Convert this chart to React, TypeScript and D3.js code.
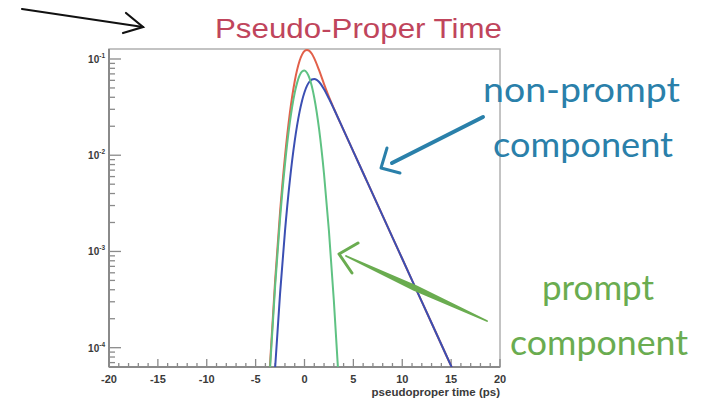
import React from "react";
import * as d3 from "d3";

// ---- data ----
const promptT = [-3.75, -3.5, -3, -2.5, -2, -1.5, -1, -0.75, -0.5, -0.25, 0, 0.25, 0.5, 0.75, 1, 1.5, 2, 2.5, 3, 3.4, 3.65];
const promptV = [2.3e-5, 6.7e-5, 4.43e-4, 2.19e-3, 8.0e-3, 0.0219, 0.0446, 0.0568, 0.0675, 0.0742, 0.0759, 0.0719, 0.0636, 0.0521, 0.0396, 0.0184, 6.34e-3, 1.63e-3, 3.11e-4, 6.7e-5, 2.3e-5];

const nonPromptT = [-3.25, -3, -2.5, -2, -1.5, -1, -0.5, -0.25, 0, 0.25, 0.5, 0.75, 1, 1.25, 1.5, 2, 2.5, 3, 4, 5, 6, 8, 10, 12, 14, 15.5, 16.5];
const nonPromptV = [2.3e-5, 6.3e-5, 3.65e-4, 1.61e-3, 5.44e-3, 0.01408, 0.0284, 0.0368, 0.0451, 0.0525, 0.058, 0.0612, 0.062, 0.0607, 0.0576, 0.0486, 0.0388, 0.0304, 0.01822, 0.01091, 6.53e-3, 2.34e-3, 8.4e-4, 3.01e-4, 1.08e-4, 5.0e-5, 3.0e-5];

const totalT = [-3.75, -3.5, -3, -2.5, -2, -1.5, -1, -0.5, -0.25, 0, 0.25, 0.5, 0.75, 1, 1.5, 2, 2.5, 3, 4, 5, 6, 8, 10, 12, 14, 15.5, 16.5];
const totalV = [2.5e-5, 7.5e-5, 5.06e-4, 2.56e-3, 9.6e-3, 0.0273, 0.0587, 0.0959, 0.111, 0.121, 0.124, 0.1216, 0.1133, 0.1016, 0.076, 0.0549, 0.0404, 0.0307, 0.01823, 0.01091, 6.53e-3, 2.34e-3, 8.4e-4, 3.01e-4, 1.08e-4, 5.0e-5, 3.0e-5];

const xMajorTicks = [-20, -15, -10, -5, 0, 5, 10, 15, 20];
const yDecades = [-1, -2, -3, -4];

const title = "Pseudo-Proper Time";
const xTitle = "pseudoproper time (ps)";

export default function App() {
  const L = 109, R = 500, T = 49, B = 367;
  const x = d3.scaleLinear().domain([-20, 20]).range([L, R]);
  const y = d3.scaleLog().domain([6.3e-5, 0.127]).range([B, T]);

  const mk = (ts: number[], vs: number[]) =>
    d3
      .line<number>()
      .x((_, i) => x(ts[i]))
      .y((_, i) => y(vs[i]))
      .curve(d3.curveMonotoneX)(vs) || "";

  const minorX = d3.range(-20, 21, 1).filter((v) => v % 5 !== 0);
  const minorY: number[] = [];
  [-5, -4, -3, -2].forEach((e) => {
    for (let k = 2; k <= 9; k++) {
      const v = k * Math.pow(10, e);
      if (v > 6.3e-5 && v < 0.127) minorY.push(v);
    }
  });

  const axisCol = "#8a8a8a";
  const labCol = "#3a3a3a";

  return (
    <svg width={705} height={401} style={{ position: "absolute", left: 0, top: 0, background: "#fff" }}>
      <defs>
        <clipPath id="plot">
          <rect x={L} y={T} width={R - L} height={B - T} />
        </clipPath>
      </defs>

      {/* black arrow top-left */}
      <g stroke="#111" strokeWidth={2.2} fill="none" strokeLinecap="round">
        <path d="M22,9 L143,27" />
        <path d="M126,13 L143,27 L123,33" />
      </g>

      {/* title */}
      <text x={215} y={38} fontFamily="'Liberation Sans', Arial, sans-serif" fontSize={28} fill="#c0455c" textLength={287} lengthAdjust="spacingAndGlyphs">
        {title}
      </text>

      {/* frame */}
      <rect x={L} y={T} width={R - L} height={B - T} fill="none" stroke="#b0b0b0" strokeWidth={1.5} />
      <line x1={L} y1={T} x2={L} y2={B} stroke={axisCol} strokeWidth={2} />
      <line x1={L} y1={B} x2={R} y2={B} stroke={axisCol} strokeWidth={2} />

      {/* x ticks */}
      {minorX.map((v) => (
        <line key={"mx" + v} x1={x(v)} x2={x(v)} y1={B} y2={B - 4} stroke={axisCol} strokeWidth={1.3} />
      ))}
      {xMajorTicks.map((v) => (
        <g key={"x" + v}>
          <line x1={x(v)} x2={x(v)} y1={B} y2={B - 8} stroke={axisCol} strokeWidth={1.3} />
          <text x={x(v)} y={383} textAnchor="middle" fontFamily="'Liberation Sans', Arial, sans-serif" fontWeight="bold" fontSize={11} fill={labCol}>
            {String(v)}
          </text>
        </g>
      ))}
      <text x={500} y={396} textAnchor="end" fontFamily="'Liberation Sans', Arial, sans-serif" fontWeight="bold" fontSize={11.5} fill={labCol}>
        {xTitle}
      </text>

      {/* y ticks */}
      {minorY.map((v, i) => (
        <line key={"my" + i} x1={L} x2={L + 6} y1={y(v)} y2={y(v)} stroke={axisCol} strokeWidth={1.3} />
      ))}
      {yDecades.map((e) => (
        <g key={"y" + e}>
          <line x1={L} x2={L + 12} y1={y(Math.pow(10, e))} y2={y(Math.pow(10, e))} stroke={axisCol} strokeWidth={1.3} />
          <text x={105} y={y(Math.pow(10, e)) + 4} textAnchor="end" fontFamily="'Liberation Sans', Arial, sans-serif" fontWeight="bold" fontSize={10} fill={labCol}>
            <tspan>10</tspan>
            <tspan dy={-5} fontSize={6.5}>{String(e)}</tspan>
          </text>
        </g>
      ))}

      {/* curves */}
      <g clipPath="url(#plot)" fill="none" strokeWidth={2} strokeLinejoin="round">
        <path d={mk(totalT, totalV)} stroke="#e2604a" />
        <path d={mk(nonPromptT, nonPromptV)} stroke="#3b4fb3" />
        <path d={mk(promptT, promptV)} stroke="#5fc283" />
      </g>

      {/* blue annotation arrow */}
      <g stroke="#2a80aa" fill="none" strokeLinecap="round" strokeLinejoin="round">
        <path d="M392,163 L483,117" strokeWidth={4} />
        <path d="M387,148 L381,168 L400,173" strokeWidth={3} />
      </g>

      {/* green annotation arrow */}
      <g fill="#6aac50" stroke="#6aac50" strokeLinecap="round" strokeLinejoin="round">
        <path d="M346,256 L416,286 L487,321 L414,290 Z" strokeWidth={1.8} />
        <path d="M358,243 L339,254 L352,273" fill="none" strokeWidth={3} />
      </g>

      {/* annotations */}
      <g fontFamily="Lato, 'Noto Sans', sans-serif" fontSize={34} fontWeight={400}>
        <text x={483} y={102} fill="#2a80aa" textLength={197} lengthAdjust="spacingAndGlyphs">non-prompt</text>
        <text x={493} y={157} fill="#2a80aa" textLength={180} lengthAdjust="spacingAndGlyphs">component</text>
        <text x={542} y={300} fill="#6aac50" textLength={112} lengthAdjust="spacingAndGlyphs">prompt</text>
        <text x={510} y={355} fill="#6aac50" textLength={178} lengthAdjust="spacingAndGlyphs">component</text>
      </g>
    </svg>
  );
}
